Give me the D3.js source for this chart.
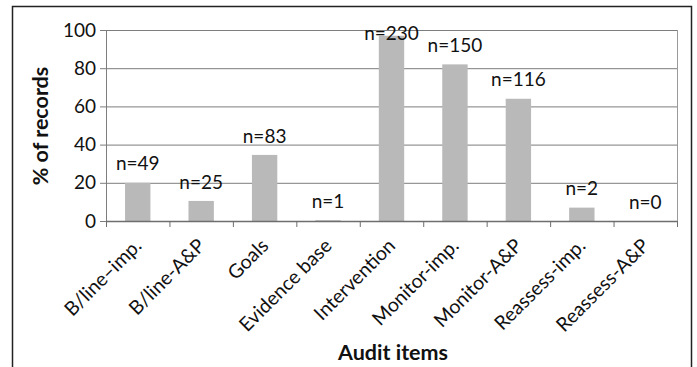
<!DOCTYPE html>
<html>
<head>
<meta charset="utf-8">
<script src="https://cdn.jsdelivr.net/npm/d3@7"></script>
<style>
  html, body { margin: 0; padding: 0; background: #fff; }
  svg { display: block; }
  text { font-family: Lato, "Open Sans", sans-serif; fill: #111; }
</style>
</head>
<body>
<svg id="chart" width="697" height="367"></svg>
<script>
// Audit items and the share of records meeting each one
const categories = ["B/line\u2013imp.", "B/line-A&P", "Goals", "Evidence base", "Intervention",
                    "Monitor-imp.", "Monitor-A&P", "Reassess-imp.", "Reassess-A&P"];
const percentValues = [20, 10.5, 34.6, 0.4, 97, 82, 64, 7, 0];
const countLabels = ["n=49", "n=25", "n=83", "n=1", "n=230", "n=150", "n=116", "n=2", "n=0"];
const yTicks = [0, 20, 40, 60, 80, 100];

const svg = d3.select("#chart");
const plot = { left: 106, right: 677, top: 30, bottom: 221 };

// outer chart frame
svg.append("rect")
  .attr("x", 12.5).attr("y", 6.5)
  .attr("width", 679).attr("height", 400)
  .attr("fill", "none").attr("stroke", "#222").attr("stroke-width", 1.5);

const x = d3.scaleBand().domain(categories).range([plot.left, plot.right])
  .paddingInner(0.6).paddingOuter(0.3);
const xEdge = d3.scaleLinear().domain([0, categories.length]).range([plot.left, plot.right]);
const y = d3.scaleLinear().domain([0, 100]).range([plot.bottom, plot.top]);

const gridColor = "#7d7d7d";

// horizontal gridlines with short outward ticks
const yAxis = svg.append("g")
  .attr("transform", `translate(${plot.left},0)`)
  .call(d3.axisLeft(y).tickValues(yTicks).tickSize(6).tickPadding(4).tickFormat(d3.format("d")));
yAxis.select(".domain").remove();
yAxis.selectAll(".tick line").attr("stroke", gridColor).attr("x2", plot.right - plot.left)
  .attr("x1", -6);
yAxis.selectAll(".tick text")
  .style("font-size", "19px").style("font-family", "Lato, sans-serif").attr("fill", "#111");

// left axis line and right plot edge
svg.append("line").attr("x1", plot.left + 0.5).attr("x2", plot.left + 0.5)
  .attr("y1", plot.top).attr("y2", plot.bottom).attr("stroke", gridColor);
svg.append("line").attr("x1", plot.right + 0.5).attr("x2", plot.right + 0.5)
  .attr("y1", plot.top).attr("y2", plot.bottom).attr("stroke", "#9a9a9a");

// bars
svg.append("g").selectAll("rect")
  .data(categories)
  .join("rect")
  .attr("x", d => x(d))
  .attr("width", x.bandwidth())
  .attr("y", (d, i) => y(percentValues[i]))
  .attr("height", (d, i) => y(0) - y(percentValues[i]))
  .attr("fill", "#b9b9b9");

// category axis: ticks at band boundaries
const xAxisG = svg.append("g").attr("transform", `translate(0,${plot.bottom})`);
xAxisG.append("line").attr("x1", plot.left).attr("x2", plot.right)
  .attr("y1", 0.5).attr("y2", 0.5).attr("stroke", "#6e6e6e").attr("stroke-width", 1.5);
xAxisG.selectAll("line.tk")
  .data(d3.range(categories.length + 1))
  .join("line").attr("class", "tk")
  .attr("x1", d => xEdge(d) + 0.5).attr("x2", d => xEdge(d) + 0.5)
  .attr("y1", 0).attr("y2", 6).attr("stroke", "#6e6e6e");

// rotated category labels
svg.append("g").selectAll("text")
  .data(categories)
  .join("text")
  .attr("transform", d => `translate(${x(d) + x.bandwidth() / 2 + 5},${plot.bottom + 26}) rotate(-45)`)
  .attr("text-anchor", "end")
  .style("font-size", "19.5px")
  .text(d => d);

// count labels above bars
svg.append("g").selectAll("text")
  .data(categories)
  .join("text")
  .attr("x", d => x(d) + x.bandwidth() / 2)
  .attr("y", (d, i) => Math.max(y(percentValues[i]) - 19, plot.top + 3))
  .attr("dy", "0.35em")
  .attr("text-anchor", "middle")
  .style("font-size", "19px")
  .text((d, i) => countLabels[i]);

// axis titles
svg.append("text")
  .attr("transform", `translate(40,126) rotate(-90)`)
  .attr("dy", "0.35em")
  .attr("text-anchor", "middle")
  .style("font-size", "21.5px").style("font-weight", "bold")
  .text("% of records");

svg.append("text")
  .attr("x", 393).attr("y", 352)
  .attr("dy", "0.35em")
  .attr("text-anchor", "middle")
  .style("font-size", "21.5px").style("font-weight", "bold")
  .text("Audit items");
</script>
</body>
</html>
